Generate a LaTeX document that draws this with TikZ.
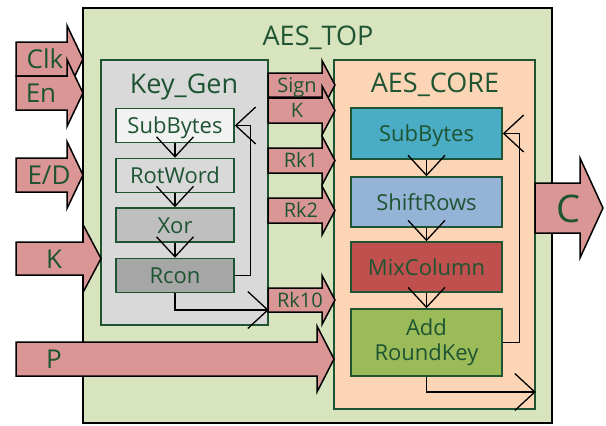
\documentclass[tikz,border=0pt]{standalone}
\usepackage{fontspec}
\setmainfont{Open Sans}
\usetikzlibrary{arrows.meta}

\definecolor{topgreen}{RGB}{215,228,189}
\definecolor{keygray}{RGB}{217,217,217}
\definecolor{corepeach}{RGB}{251,213,181}
\definecolor{busred}{RGB}{217,150,148}
\definecolor{txtgreen}{RGB}{30,84,50}
\definecolor{gray1}{RGB}{242,242,242}
\definecolor{gray2}{RGB}{217,217,217}
\definecolor{gray3}{RGB}{191,191,191}
\definecolor{gray4}{RGB}{166,166,166}
\definecolor{sbox}{RGB}{75,172,198}
\definecolor{srow}{RGB}{149,179,215}
\definecolor{mcol}{RGB}{192,80,77}
\definecolor{ark}{RGB}{155,187,89}

\tikzset{
  frame/.style={draw=txtgreen, line width=1.5pt, inner sep=0pt},
  title/.style={font=\fontsize{27}{32}\selectfont, text=txtgreen, inner sep=0pt,
    text height=19pt, text depth=0pt},
  stage/.style={draw=txtgreen, line width=1.5pt, inner sep=0pt, text=txtgreen,
    font=\fontsize{22}{25}\selectfont, align=center},
  kstage/.style={stage, minimum width=118, minimum height=34,
    text height=16pt, text depth=0pt},
  cstage/.style={stage, minimum width=151},
  bus/.style={fill=busred, draw=black, line width=1.5pt},
  buslbl/.style={font=\fontsize{26}{30}\selectfont, text=txtgreen, inner sep=0pt,
    text height=19pt, text depth=0pt},
  rklbl/.style={font=\fontsize{20}{24}\selectfont, text=txtgreen, inner sep=0pt,
    text height=14pt, text depth=0pt},
  flow/.style={draw=black, line width=1.3pt, arrows={-Straight Barb[length=20pt,width=37pt]}}
}

% block arrow: start x, tip x, centre y, half shaft, half head, head length
\newcommand{\busarrow}[6]{%
  \filldraw[bus] (#1,#3-#4) -- (#2-#6,#3-#4) -- (#2-#6,#3-#5) -- (#2,#3)
    -- (#2-#6,#3+#5) -- (#2-#6,#3+#4) -- (#1,#3+#4) -- cycle;}

\begin{document}
\begin{tikzpicture}[x=1pt, y=-1pt]
\useasboundingbox (0,0) rectangle (606,426);

% outer module
\node[frame, draw=black, fill=topgreen, minimum width=469, minimum height=415] (top) at (317.5,215.5) {};
\node[title] (toplbl) at (318,36) {AES\_TOP};

% key schedule and cipher core
\node[frame, fill=keygray, minimum width=167, minimum height=265] (keygen) at (184.5,192.5) {};
\node[title] (keylbl) at (184,84) {Key\_Gen};
\node[frame, fill=corepeach, minimum width=201, minimum height=349] (core) at (434.5,234.5) {};
\node[title] (corelbl) at (435,83) {AES\_CORE};

% input buses
\busarrow{16}{83}{59}{17}{33.5}{16}
\node[buslbl] (clk) at (45,59) {Clk};
\busarrow{16}{83}{93}{17}{33.5}{16}
\node[buslbl] (en) at (41,93) {En};
\busarrow{16}{83}{175}{17}{33.5}{16}
\node[buslbl] (ed) at (49,175) {E/D};
\busarrow{16}{101}{258.5}{16.5}{34}{18}
\node[buslbl] (key) at (54,258.5) {K};
\busarrow{16}{334}{359}{17}{33}{17}
\node[buslbl] (plain) at (54,359) {P};

% round keys from Key_Gen to AES_CORE
\busarrow{268}{335}{85}{12}{24.5}{13}
\node[rklbl] (sign) at (297,85) {Sign};
\busarrow{268}{335}{110.5}{12.5}{24.5}{13}
\node[rklbl] (kin) at (297,110.5) {K};
\busarrow{268}{335}{160.5}{12.5}{24.5}{13}
\node[rklbl] (rk1) at (301,160.5) {Rk1};
\busarrow{268}{335}{210.5}{12.5}{24.5}{13}
\node[rklbl] (rk2) at (301,210.5) {Rk2};
\busarrow{268}{335}{300}{12}{24.5}{13}
\node[rklbl] (rk10) at (300,300) {Rk10};

% output bus
\busarrow{535}{603}{208}{25}{50}{23}
\node[buslbl, font=\fontsize{38}{42}\selectfont, text height=28pt] (cout) at (568.5,208) {C};

% Key_Gen steps
\node[kstage, fill=gray1] (k1) at (175,125.5) {SubBytes};
\node[kstage, fill=gray2] (k2) at (175,175.5) {RotWord};
\node[kstage, fill=gray3] (k3) at (175,225) {Xor};
\node[kstage, fill=gray4] (k4) at (175,275.5) {Rcon};
\draw[flow] (k1) -- (k2);
\draw[flow] (k2) -- (k3);
\draw[flow] (k3) -- (k4);
\draw[flow] (k4.east) -- ++(16,0) |- (k1.east);
\coordinate (rkin) at (keygen.east |- 0,310);
\draw[flow] (k4.south) |- (rkin);

% AES_CORE rounds
\node[cstage, fill=sbox, minimum height=51, text height=16pt, text depth=0pt] (c1) at (426.5,133.5) {SubBytes};
\node[cstage, fill=srow, minimum height=50, text height=16pt, text depth=0pt] (c2) at (426.5,202) {ShiftRows};
\node[cstage, fill=mcol, minimum height=50, text height=16pt, text depth=0pt] (c3) at (426.5,267) {MixColumn};
\node[cstage, fill=ark, minimum height=67] (c4) at (426.5,342.5) {Add\\RoundKey};
\draw[flow] (c1) -- (c2);
\draw[flow] (c2) -- (c3);
\draw[flow] (c3) -- (c4);
\draw[flow] (c4.east) -- ++(17,0) |- (c1.east);
\coordinate (coreout) at (core.east |- 0,392);
\draw[flow] (c4.south) |- (coreout);
\end{tikzpicture}
\end{document}
